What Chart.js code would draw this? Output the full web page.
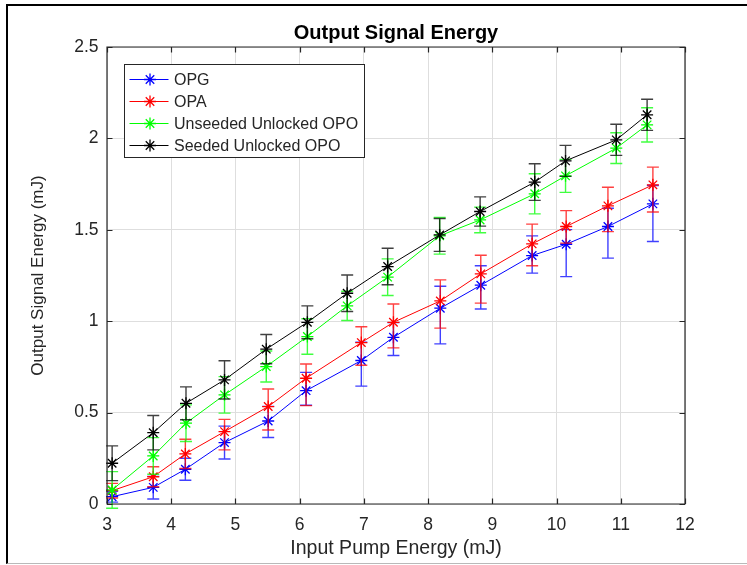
<!DOCTYPE html>
<html>
<head>
<meta charset="utf-8">
<title>Output Signal Energy</title>
<script src="https://cdn.jsdelivr.net/npm/chart.js@4.4.1/dist/chart.umd.min.js"></script>
<style>
  html, body { margin: 0; padding: 0; background: #fff; }
  #wrap { position: relative; width: 747px; height: 565px; overflow: hidden; }
  #wrap canvas { position: absolute; left: 0; top: 0; }
  #frame {
    position: absolute; left: 6px; top: 4px; width: 800px; height: 560px;
    border-left: 2px solid #000; border-top: 2px solid #000; border-bottom: 1px solid #b9b9b9;
    box-sizing: border-box; pointer-events: none;
  }
</style>
</head>
<body>
<div id="wrap">
  <canvas id="chart" width="747" height="565"></canvas>
  <div id="frame"></div>
</div>
<script>
// Series names and colours
const seriesNames = ['OPG', 'OPA', 'Unseeded Unlocked OPO', 'Seeded Unlocked OPO'];
const seriesColors = ['#0000ff', '#ff0000', '#00ff00', '#000000'];
const chartTitle = 'Output Signal Energy';

// Input pump energy (mJ) for each measurement set
const pumpOPG = [3.08, 3.72, 4.22, 4.83, 5.51, 6.10, 6.96, 7.46, 8.19, 8.82, 9.62, 10.15, 10.80, 11.50];
const pumpOPA = [3.08, 3.72, 4.22, 4.83, 5.51, 6.10, 6.96, 7.46, 8.19, 8.82, 9.62, 10.15, 10.80, 11.50];
const pumpUnseeded = [3.08, 3.72, 4.23, 4.83, 5.48, 6.12, 6.74, 7.37, 8.18, 8.81, 9.66, 10.14, 10.93, 11.41];
const pumpSeeded = [3.08, 3.72, 4.23, 4.83, 5.48, 6.12, 6.74, 7.37, 8.18, 8.81, 9.66, 10.14, 10.93, 11.41];

// Output signal energy (mJ)
const signalOPG = [0.040, 0.091, 0.190, 0.336, 0.454, 0.620, 0.785, 0.912, 1.071, 1.197, 1.359, 1.421, 1.518, 1.642];
const signalOPA = [0.073, 0.149, 0.274, 0.396, 0.533, 0.688, 0.883, 0.994, 1.111, 1.259, 1.423, 1.518, 1.631, 1.746];
const signalUnseeded = [0.077, 0.263, 0.442, 0.597, 0.752, 0.916, 1.084, 1.241, 1.467, 1.554, 1.697, 1.795, 1.947, 2.074];
const signalSeeded = [0.223, 0.390, 0.551, 0.679, 0.847, 0.994, 1.153, 1.299, 1.472, 1.600, 1.761, 1.877, 1.992, 2.129];

// Error bar extents below / above each point (mJ)
const errLowOPG = [0.030, 0.064, 0.060, 0.090, 0.090, 0.080, 0.140, 0.100, 0.195, 0.130, 0.096, 0.177, 0.173, 0.206];
const errHighOPG = [0.030, 0.060, 0.060, 0.090, 0.080, 0.100, 0.100, 0.080, 0.120, 0.106, 0.108, 0.080, 0.100, 0.100];
const errLowOPA = [0.040, 0.055, 0.080, 0.100, 0.128, 0.150, 0.124, 0.140, 0.149, 0.160, 0.120, 0.091, 0.141, 0.149];
const errHighOPA = [0.040, 0.055, 0.080, 0.067, 0.096, 0.078, 0.087, 0.100, 0.115, 0.102, 0.108, 0.087, 0.102, 0.097];
const errLowUnseeded = [0.100, 0.100, 0.100, 0.100, 0.085, 0.097, 0.080, 0.100, 0.100, 0.070, 0.110, 0.090, 0.084, 0.094];
const errHighUnseeded = [0.100, 0.100, 0.100, 0.100, 0.085, 0.097, 0.080, 0.100, 0.100, 0.070, 0.110, 0.090, 0.084, 0.094];
const errLowSeeded = [0.095, 0.094, 0.090, 0.105, 0.080, 0.090, 0.100, 0.100, 0.090, 0.080, 0.100, 0.085, 0.085, 0.085];
const errHighSeeded = [0.095, 0.094, 0.090, 0.105, 0.080, 0.090, 0.100, 0.100, 0.090, 0.080, 0.100, 0.085, 0.085, 0.085];

// Axis ranges and tick labels
const xTickValues = [3, 4, 5, 6, 7, 8, 9, 10, 11, 12];
const yTickValues = [0, 0.5, 1, 1.5, 2, 2.5];
const yTickLabels = ['0', '0.5', '1', '1.5', '2', '2.5'];

const FONT = "'Liberation Sans', Arial, Helvetica, sans-serif";
const AXIS_COLOR = '#262626';

function points(xs, ys) {
  return xs.map((x, i) => ({ x: x, y: ys[i] }));
}

function makeSeries(idx, xs, ys, lo, hi) {
  return {
    label: seriesNames[idx],
    data: points(xs, ys),
    errLow: lo,
    errHigh: hi,
    borderColor: seriesColors[idx],
    backgroundColor: seriesColors[idx],
    pointBorderColor: seriesColors[idx],
    pointBackgroundColor: seriesColors[idx],
    borderWidth: 1,
    pointStyle: 'star',
    pointRadius: 6,
    pointHoverRadius: 6,
    pointBorderWidth: 1.3,
    tension: 0,
    fill: false,
    clip: 10,
    order: 4 - idx
  };
}

const datasets = [
  makeSeries(0, pumpOPG, signalOPG, errLowOPG, errHighOPG),
  makeSeries(1, pumpOPA, signalOPA, errLowOPA, errHighOPA),
  makeSeries(2, pumpUnseeded, signalUnseeded, errLowUnseeded, errHighUnseeded),
  makeSeries(3, pumpSeeded, signalSeeded, errLowSeeded, errHighSeeded)
];

// Vertical error bars with caps, drawn just before each series' line
const errorBars = {
  id: 'errorBars',
  beforeDatasetDraw(chart, args) {
    const ds = chart.data.datasets[args.index];
    const xs = chart.scales.x, ys = chart.scales.y;
    const ctx = chart.ctx;
    const cap = 6;
    ctx.save();
    ctx.strokeStyle = ds.borderColor;
    ctx.globalAlpha = 0.75;
    ctx.lineWidth = 1.4;
    ds.data.forEach((p, i) => {
      const px = xs.getPixelForValue(p.x);
      const top = ys.getPixelForValue(p.y + ds.errHigh[i]);
      const bot = ys.getPixelForValue(p.y - ds.errLow[i]);
      ctx.beginPath();
      ctx.moveTo(px, top); ctx.lineTo(px, bot);
      ctx.moveTo(px - cap, top); ctx.lineTo(px + cap, top);
      ctx.moveTo(px - cap, bot); ctx.lineTo(px + cap, bot);
      ctx.stroke();
    });
    ctx.restore();
  }
};

// Boxed axes with inward ticks on all four sides, plus the title above the plot
const axesBox = {
  id: 'axesBox',
  afterDatasetsDraw(chart) {
    const { ctx, chartArea: a, scales: { x, y } } = chart;
    const len = 5.5;
    ctx.save();
    ctx.strokeStyle = AXIS_COLOR;
    ctx.lineWidth = 1.2;
    ctx.beginPath();
    ctx.rect(a.left, a.top, a.right - a.left, a.bottom - a.top);
    x.ticks.forEach(t => {
      const px = Math.round(x.getPixelForValue(t.value)) + 0.5;
      ctx.moveTo(px, a.bottom); ctx.lineTo(px, a.bottom - len);
      ctx.moveTo(px, a.top); ctx.lineTo(px, a.top + len);
    });
    y.ticks.forEach(t => {
      const py = Math.round(y.getPixelForValue(t.value)) + 0.5;
      ctx.moveTo(a.left, py); ctx.lineTo(a.left + len, py);
      ctx.moveTo(a.right, py); ctx.lineTo(a.right - len, py);
    });
    ctx.stroke();

    ctx.fillStyle = '#000';
    ctx.font = 'bold 20px ' + FONT;
    ctx.textAlign = 'center';
    ctx.textBaseline = 'middle';
    ctx.fillText(chartTitle, (a.left + a.right) / 2, a.top - 14);
    ctx.restore();
  }
};

// Legend box in the upper-left corner of the plot
const boxLegend = {
  id: 'boxLegend',
  afterDraw(chart) {
    const ctx = chart.ctx;
    const a = chart.chartArea;
    const bx = a.left + 17.5, by = a.top + 17.5, bw = 240, bh = 93;
    ctx.save();
    ctx.fillStyle = '#ffffff';
    ctx.fillRect(bx, by, bw, bh);
    ctx.strokeStyle = '#262626';
    ctx.lineWidth = 1;
    ctx.strokeRect(bx, by, bw, bh);
    ctx.font = '16px ' + FONT;
    ctx.textBaseline = 'middle';
    ctx.textAlign = 'left';
    chart.data.datasets.forEach((ds, i) => {
      const rowY = by + 15 + i * 22;
      ctx.strokeStyle = ds.borderColor;
      ctx.lineWidth = 1;
      ctx.beginPath();
      ctx.moveTo(bx + 5, rowY); ctx.lineTo(bx + 44, rowY);
      ctx.stroke();
      ctx.lineWidth = 1.3;
      Chart.helpers.drawPoint(ctx, { pointStyle: 'star', radius: 6, borderWidth: 1.3 }, bx + 25.5, rowY);
      ctx.fillStyle = AXIS_COLOR;
      ctx.fillText(ds.label, bx + 49.5, rowY + 1);
    });
    ctx.restore();
  }
};

new Chart(document.getElementById('chart'), {
  type: 'line',
  data: { datasets: datasets },
  plugins: [errorBars, axesBox, boxLegend],
  options: {
    responsive: false,
    animation: false,
    devicePixelRatio: 1,
    layout: { padding: { left: 0, right: 62, top: 47, bottom: 0 } },
    plugins: {
      legend: { display: false },
      tooltip: { enabled: false },
      title: { display: false }
    },
    scales: {
      x: {
        type: 'linear',
        min: 3, max: 12,
        afterBuildTicks(scale) { scale.ticks = xTickValues.map(v => ({ value: v })); },
        afterFit(scale) { scale.height = 61; },
        grid: { color: '#dedede', lineWidth: 1, drawTicks: false },
        border: { display: false },
        ticks: {
          color: AXIS_COLOR, padding: 10.5, maxRotation: 0, autoSkip: false,
          font: { family: FONT, size: 17.5 },
          callback: v => String(v)
        },
        title: {
          display: true, text: 'Input Pump Energy (mJ)', color: AXIS_COLOR,
          font: { family: FONT, size: 19.5, lineHeight: 1.2 },
          padding: { top: 0, bottom: 4.5 }
        }
      },
      y: {
        type: 'linear',
        min: 0, max: 2.5,
        afterBuildTicks(scale) { scale.ticks = yTickValues.map(v => ({ value: v })); },
        afterFit(scale) { scale.width = 107; },
        grid: { color: '#dedede', lineWidth: 1, drawTicks: false },
        border: { display: false },
        ticks: {
          color: AXIS_COLOR, padding: 8.5, autoSkip: false,
          font: { family: FONT, size: 17.5 },
          callback: (v) => yTickLabels[yTickValues.indexOf(v)] ?? String(v)
        },
        title: {
          display: true, text: 'Output Signal Energy (mJ)', color: AXIS_COLOR,
          font: { family: FONT, size: 17, lineHeight: 1.2 },
          padding: { top: 28, bottom: 0 }
        }
      }
    }
  }
});
</script>
</body>
</html>
